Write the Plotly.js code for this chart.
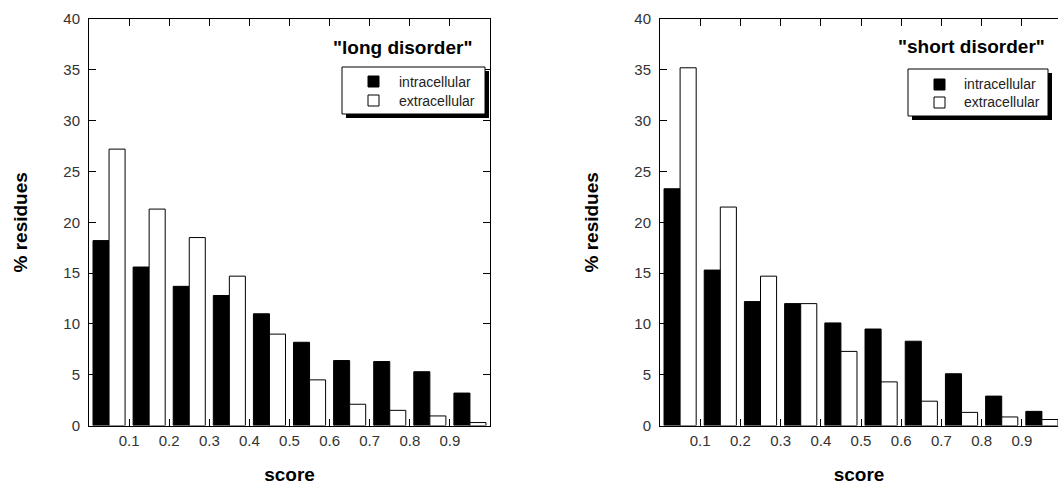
<!DOCTYPE html>
<html><head><meta charset="utf-8">
<script src="https://cdn.plot.ly/plotly-3.0.1.min.js"></script>
<style>html,body{margin:0;padding:0;background:#fff}</style>
</head><body><div id="chart" style="width:1058px;height:485px"></div>
<script>
// ---- data ----
const binCenters = [0.05, 0.15, 0.25, 0.35, 0.45, 0.55, 0.65, 0.75, 0.85, 0.95];
const tickValues = [0, 0.1, 0.2, 0.3, 0.4, 0.5, 0.6, 0.7, 0.8, 0.9, 1.0];
const tickLabels = ['', '0.1', '0.2', '0.3', '0.4', '0.5', '0.6', '0.7', '0.8', '0.9', ''];
const seriesNames = ['intracellular', 'extracellular'];
const panelTitles = ['"long disorder"', '"short disorder"'];
const longIntra  = [18.2, 15.6, 13.7, 12.8, 11.0, 8.2, 6.4, 6.3, 5.3, 3.2];
const longExtra  = [27.2, 21.3, 18.5, 14.7, 9.0, 4.5, 2.1, 1.5, 0.95, 0.3];
const shortIntra = [23.3, 15.3, 12.2, 12.0, 10.1, 9.5, 8.3, 5.1, 2.9, 1.4];
const shortExtra = [35.2, 21.5, 14.7, 12.0, 7.3, 4.3, 2.4, 1.3, 0.85, 0.6];

// ---- helpers ----
const W = 1058, H = 485;
const px = x => x / W;
const py = y => 1 - y / H;
const FONT = 'Liberation Sans, Arial, sans-serif';

function barTrace(x, y, fill, xa, ya, name) {
  return {
    type: 'bar', x: x, y: y, name: name, xaxis: xa, yaxis: ya, showlegend: false,
    marker: {color: fill, line: {color: '#000', width: 1}}, hoverinfo: 'x+y'
  };
}

const data = [
  barTrace(binCenters, longIntra, '#000', 'x', 'y', seriesNames[0]),
  barTrace(binCenters, longExtra, '#fff', 'x', 'y', seriesNames[1]),
  barTrace(binCenters, shortIntra, '#000', 'x2', 'y2', seriesNames[0]),
  barTrace(binCenters, shortExtra, '#fff', 'x2', 'y2', seriesNames[1])
];

const tickFont = {family: FONT, size: 15, color: '#333'};
const titleFont = {family: FONT, size: 19, color: '#000', weight: 'bold'};

function xAxis(domain, range, anchor) {
  return {
    domain: domain, range: range, anchor: anchor,
    tickmode: 'array', tickvals: tickValues, ticktext: tickLabels,
    ticks: 'inside', ticklen: 7, tickwidth: 1, tickcolor: '#000',
    showline: true, linecolor: '#000', linewidth: 1, mirror: 'ticks',
    showgrid: false, zeroline: false, tickfont: tickFont, ticklabelstandoff: 1,
    title: {text: 'score', font: titleFont, standoff: 21}, fixedrange: true
  };
}
function yAxis(domain, anchor, mirror) {
  return {
    domain: domain, range: [0, 40], anchor: anchor,
    tickmode: 'linear', tick0: 0, dtick: 5,
    ticks: 'inside', ticklen: 7, tickwidth: 1, tickcolor: '#000',
    showline: true, linecolor: '#000', linewidth: 1, mirror: mirror,
    showgrid: false, zeroline: false, tickfont: tickFont, ticklabelstandoff: 5,
    title: {text: '% residues', font: titleFont, standoff: 30}, fixedrange: true
  };
}

const yDom = [py(425.6), py(19)];

function legendShapes(box, sq1, sq2) {
  // box: [x0,y0,x1,y1] in px; shadow offset 4px
  return [
    {type: 'rect', xref: 'paper', yref: 'paper', x0: px(box[0] + 4), x1: px(box[2] + 4), y0: py(box[1] + 4), y1: py(box[3] + 4),
     fillcolor: '#000', line: {width: 0}},
    {type: 'rect', xref: 'paper', yref: 'paper', x0: px(box[0]), x1: px(box[2]), y0: py(box[1]), y1: py(box[3]),
     fillcolor: '#fff', line: {color: '#000', width: 1}},
    {type: 'rect', xref: 'paper', yref: 'paper', x0: px(sq1[0]), x1: px(sq1[2]), y0: py(sq1[1]), y1: py(sq1[3]),
     fillcolor: '#000', line: {color: '#000', width: 1}},
    {type: 'rect', xref: 'paper', yref: 'paper', x0: px(sq2[0]), x1: px(sq2[2]), y0: py(sq2[1]), y1: py(sq2[3]),
     fillcolor: '#fff', line: {color: '#000', width: 1}}
  ];
}

const shapes = [].concat(
  legendShapes([342, 67, 485, 114], [368, 76, 379, 87], [368, 95, 379, 106]),
  legendShapes([908, 69, 1048, 116], [934, 79, 945, 90], [934, 97, 945, 108])
);

const legFont = {family: FONT, size: 14, color: '#222'};
function ann(text, x, y, xanchor, font) {
  return {text: text, xref: 'paper', yref: 'paper', x: px(x), y: py(y),
          xanchor: xanchor, yanchor: 'middle', showarrow: false, font: font};
}
const annotations = [
  ann(panelTitles[0], 474, 48, 'right', titleFont),
  ann(panelTitles[1], 1047, 47, 'right', titleFont),
  ann(seriesNames[0], 397, 82, 'left', legFont),
  ann(seriesNames[1], 397, 101, 'left', legFont),
  ann(seriesNames[0], 962, 84, 'left', legFont),
  ann(seriesNames[1], 962, 102, 'left', legFont)
];

const layout = {
  width: W, height: H, margin: {l: 0, r: 0, t: 0, b: 0},
  paper_bgcolor: '#fff', plot_bgcolor: '#fff',
  barmode: 'group', bargap: 0.2, bargroupgap: 0,
  showlegend: false,
  xaxis: xAxis([px(89), px(490)], [0, 1], 'y'),
  yaxis: yAxis(yDom, 'x', 'ticks'),
  xaxis2: xAxis([px(660), 1], [0, 0.99], 'y2'),
  yaxis2: yAxis(yDom, 'x2', false),
  shapes: shapes,
  annotations: annotations,
  font: {family: FONT}
};

Plotly.newPlot('chart', data, layout, {displayModeBar: false, staticPlot: true});
</script>
</body></html>
